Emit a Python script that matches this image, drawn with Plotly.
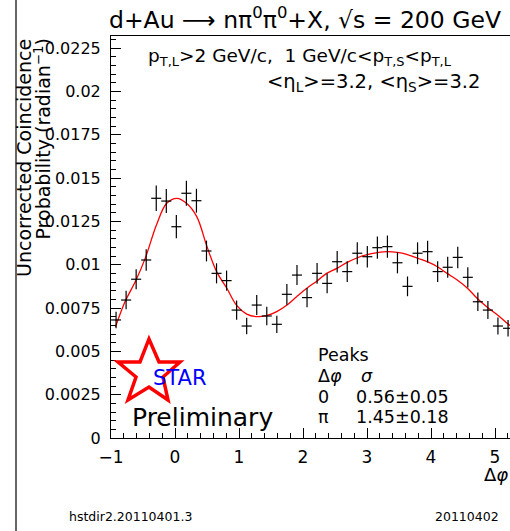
import plotly.graph_objects as go

# ---------------- data ----------------
dphi = [-0.921, -0.764, -0.607, -0.450, -0.293, -0.136, 0.021, 0.178, 0.335, 0.492,
        0.649, 0.806, 0.963, 1.120, 1.277, 1.434, 1.591, 1.748, 1.906, 2.063,
        2.220, 2.377, 2.534, 2.691, 2.848, 3.005, 3.162, 3.319, 3.476, 3.633,
        3.790, 3.947, 4.104, 4.261, 4.418, 4.575, 4.732, 4.889, 5.046, 5.204]
prob = [0.00681, 0.00796, 0.00916, 0.01027, 0.01383, 0.01367, 0.01219, 0.01412, 0.01369, 0.01079,
        0.00950, 0.00908, 0.00738, 0.00646, 0.00767, 0.00704, 0.00656, 0.00829, 0.00940, 0.00810,
        0.00950, 0.00892, 0.01017, 0.00960, 0.01066, 0.01046, 0.01098, 0.01104, 0.01011, 0.00875,
        0.01066, 0.01075, 0.00960, 0.00985, 0.01042, 0.00927, 0.00786, 0.00738, 0.00646, 0.00633]
prob_err = [0.00048, 0.00053, 0.00058, 0.00062, 0.00074, 0.00069, 0.00067, 0.00072, 0.00069, 0.00060,
            0.00058, 0.00058, 0.00056, 0.00048, 0.00058, 0.00053, 0.00050, 0.00060, 0.00058, 0.00055,
            0.00060, 0.00057, 0.00062, 0.00060, 0.00063, 0.00062, 0.00064, 0.00064, 0.00061, 0.00057,
            0.00063, 0.00063, 0.00060, 0.00061, 0.00062, 0.00058, 0.00054, 0.00052, 0.00049, 0.00048]

fit_x = [-0.93, -0.78, -0.61, -0.46, -0.29, -0.13, 0.03, 0.18, 0.34, 0.50,
         0.65, 0.81, 0.96, 1.12, 1.28, 1.43, 1.59, 1.75, 1.90, 2.06,
         2.22, 2.37, 2.53, 2.69, 2.85, 3.00, 3.16, 3.32, 3.47, 3.62,
         3.79, 3.94, 4.10, 4.25, 4.41, 4.57, 4.72, 4.88, 5.04, 5.19, 5.234]
fit_y = [0.00640, 0.00787, 0.00910, 0.01042, 0.01229, 0.01354, 0.01383, 0.01354, 0.01277, 0.01104,
         0.00960, 0.00864, 0.00767, 0.00715, 0.00700, 0.00706, 0.00729, 0.00767, 0.00815, 0.00864,
         0.00906, 0.00950, 0.00979, 0.01013, 0.01040, 0.01058, 0.01069, 0.01075, 0.01071, 0.01060,
         0.01037, 0.01017, 0.00988, 0.00950, 0.00912, 0.00864, 0.00806, 0.00754, 0.00710, 0.00662, 0.00648]

y_tick_vals = [0, 0.0025, 0.005, 0.0075, 0.01, 0.0125, 0.015, 0.0175, 0.02, 0.0225]
y_tick_text = ["0", "0.0025", "0.005", "0.0075", "0.01", "0.0125", "0.015", "0.0175", "0.02", "0.0225"]
x_tick_vals = [-1, 0, 1, 2, 3, 4, 5]

# ---------------- layout geometry ----------------
FONT = "DejaVu Sans"
W_FIG, H_FIG = 510, 531
L, T, R, B = 111, 36, 0, 93
PW, PH = W_FIG - L - R, H_FIG - T - B


def px(x):
    return (x - L) / PW


def py(y):
    return (T + PH - y) / PH


fig = go.Figure()
fig.add_trace(go.Scatter(
    x=fit_x, y=fit_y, mode="lines",
    line=dict(color="#ff0000", width=1.3, shape="spline"),
    hoverinfo="skip"))
fig.add_trace(go.Scatter(
    x=dphi, y=prob, mode="markers",
    marker=dict(size=1, color="black"),
    error_x=dict(type="constant", value=0.0785, color="black", thickness=1.2, width=0),
    error_y=dict(type="data", array=prob_err, color="black", thickness=1.2, width=0)))

annotations = []


def ann(text, x, y, size, xanchor="left", yanchor="middle", color="black", angle=0):
    annotations.append(dict(
        text=text, x=px(x), y=py(y), xref="paper", yref="paper",
        xanchor=xanchor, yanchor=yanchor, showarrow=False, textangle=angle,
        font=dict(family=FONT, size=size, color=color)))


ann("d+Au ⟶ nπ<sup>0</sup>π<sup>0</sup>+X, √s = 200 GeV", 107, 19, 23.5)
ann("p<sub>T,L</sub>&gt;2 GeV/c,  1 GeV/c&lt;p<sub>T,S</sub>&lt;p<sub>T,L</sub>", 146, 57, 18.5)
ann("&lt;η<sub>L</sub>&gt;=3.2, &lt;η<sub>S</sub>&gt;=3.2", 265, 83, 19.5)
ann("Uncorrected Coincidence", 24, 37, 19, xanchor="center", yanchor="top", angle=-90)
ann("Probability (radian<sup>−1</sup>)", 42, 37, 19, xanchor="center", yanchor="top", angle=-90)
ann("Δ<i>φ</i>", 510, 474, 18, xanchor="right")
ann("STAR", 151, 378, 21, color="#0000ff")
ann("Preliminary", 130, 417, 25)
ann("Peaks", 316, 355, 17.5)
ann("Δ<i>φ</i>", 316, 376, 17.5)
ann("<i>σ</i>", 359, 376, 17.5)
ann("0", 316, 397, 17.5)
ann("0.56±0.05", 354, 397, 17.5)
ann("π", 316, 417, 17.5)
ann("1.45±0.18", 354, 417, 17.5)
ann("hstdir2.20110401.3", 67, 516, 12.5)
ann("20110402", 501, 516, 12.5, xanchor="right")

# STAR logo star outline (decoration)
star_pts = [(118, 362), (140, 362), (149, 339), (159, 362), (180, 362), (163, 377),
            (168, 400), (149, 387), (128, 400), (136, 377)]
path = "M " + " L ".join(f"{px(a):.4f},{py(b):.4f}" for a, b in star_pts) + " Z"

shapes = [
    dict(type="path", path=path, xref="paper", yref="paper",
         line=dict(color="#ff0000", width=3.5), fillcolor="rgba(0,0,0,0)"),
    dict(type="line", xref="paper", yref="paper", x0=px(16), x1=px(16),
         y0=py(0), y1=py(531), line=dict(color="black", width=1.2)),
]

fig.update_layout(
    width=W_FIG, height=H_FIG,
    margin=dict(l=L, r=R, t=T, b=B, pad=0),
    paper_bgcolor="white", plot_bgcolor="white",
    showlegend=False,
    annotations=annotations, shapes=shapes,
    xaxis=dict(range=[-1, -1 + PW / 64.0], showline=True, linecolor="black", linewidth=1,
               mirror=True, ticks="inside", ticklen=10, tickcolor="black",
               tickvals=x_tick_vals, showgrid=False, zeroline=False,
               tickfont=dict(family=FONT, size=17, color="black"),
               ticklabelstandoff=4,
               minor=dict(ticks="inside", ticklen=5, dtick=0.2, tick0=0, tickcolor="black",
                          showgrid=False)),
    yaxis=dict(range=[0, PH / 17333.0], showline=True, linecolor="black", linewidth=1,
               ticks="inside", ticklen=10, tickcolor="black",
               tickvals=y_tick_vals, ticktext=y_tick_text, showgrid=False, zeroline=False,
               tickfont=dict(family=FONT, size=16, color="black"),
               ticklabelstandoff=6,
               minor=dict(ticks="inside", ticklen=5, dtick=0.0005, tick0=0, tickcolor="black",
                          showgrid=False)),
)

fig.write_html("out.html")
